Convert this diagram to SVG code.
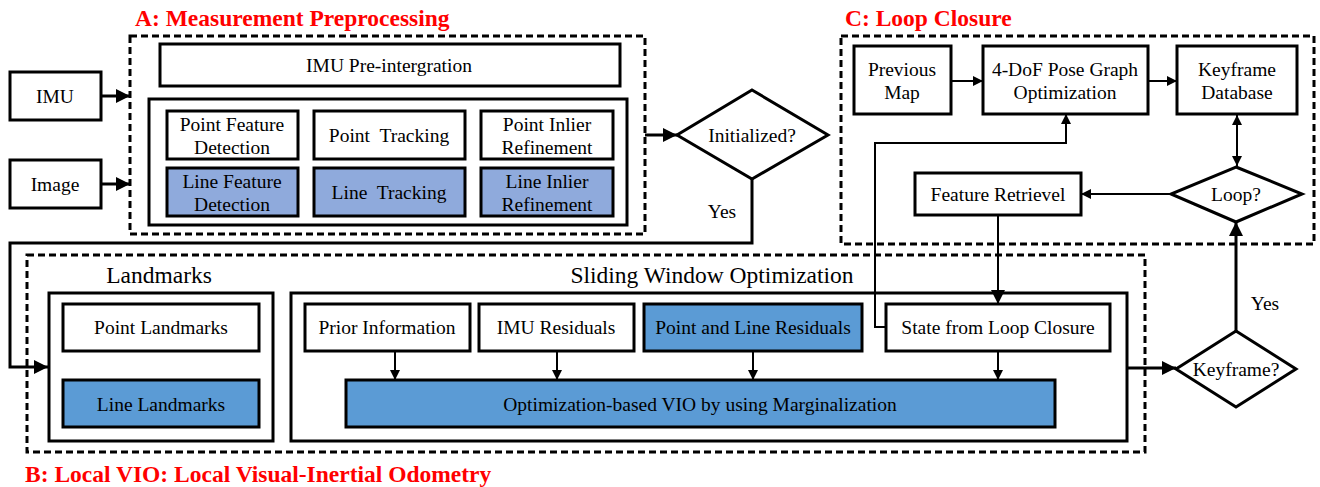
<svg xmlns="http://www.w3.org/2000/svg" width="1320" height="487" viewBox="0 0 1320 487">
<style>
text{font-family:"Liberation Serif","Times New Roman",serif;fill:#000;text-anchor:middle;dominant-baseline:central}
.t{font-size:19.5px}
.pre{white-space:pre}
.big{font-size:23.5px}
.title{font-size:23.5px;font-weight:bold;fill:#ff0000;text-anchor:start;dominant-baseline:alphabetic}
.box{fill:#fff;stroke:#000;stroke-width:3}
.lb{fill:#8faadc;stroke:#000;stroke-width:3}
.db{fill:#5b9bd5;stroke:#000;stroke-width:3}
.dash{fill:none;stroke:#000;stroke-width:3;stroke-dasharray:7,4}
.ln{fill:none;stroke:#000;stroke-width:2}
.lnb{fill:none;stroke:#000;stroke-width:3}
</style>
<defs>
<marker id="ah" viewBox="0 0 10 10" refX="10" refY="5" markerWidth="10" markerHeight="10" markerUnits="userSpaceOnUse" orient="auto-start-reverse"><path d="M0,0 L10,5 L0,10 z" fill="#000"/></marker>
<marker id="ahb" viewBox="0 0 10 10" refX="10" refY="5" markerWidth="14" markerHeight="14" markerUnits="userSpaceOnUse" orient="auto-start-reverse"><path d="M0,0 L10,5 L0,10 z" fill="#000"/></marker>
</defs>
<rect width="1320" height="487" fill="#fff"/>

<!-- Titles -->
<text class="title" x="135" y="26">A: Measurement Preprocessing</text>
<text class="title" x="845" y="26">C: Loop Closure</text>
<text class="title" x="25" y="482">B: Local VIO: Local Visual-Inertial Odometry</text>

<!-- Group containers -->
<g id="groupA">
<rect class="dash" x="130" y="36" width="515" height="198"/>
<rect class="box" x="149" y="99" width="478" height="126"/>
</g>
<g id="groupC">
<rect class="dash" x="841" y="36" width="473" height="208"/>
</g>
<g id="groupB">
<rect class="dash" x="27" y="255" width="1118" height="197"/>
<text class="big" x="159" y="275">Landmarks</text>
<text class="big" x="712" y="275">Sliding Window Optimization</text>
<rect class="box" x="49" y="293" width="224" height="148"/>
<rect class="box" x="291" y="293" width="836" height="148"/>
</g>

<!-- Connectors -->
<g id="connectors">
<line class="lnb" x1="101" y1="96" x2="130" y2="96" marker-end="url(#ahb)"/>
<line class="lnb" x1="101" y1="184" x2="130" y2="184" marker-end="url(#ahb)"/>
<line class="lnb" x1="645" y1="135" x2="677" y2="135" marker-end="url(#ahb)"/>
<polyline class="lnb" points="752,179 752,243 10,243 10,367 48,367" marker-end="url(#ahb)"/>
<line class="ln" x1="951" y1="81" x2="983" y2="81" marker-end="url(#ah)"/>
<line class="ln" x1="1148" y1="81" x2="1177" y2="81" marker-end="url(#ah)"/>
<line class="ln" x1="1237" y1="115" x2="1237" y2="166" marker-start="url(#ah)" marker-end="url(#ah)"/>
<line class="ln" x1="1171" y1="194" x2="1081" y2="194" marker-end="url(#ah)"/>
<line class="ln" x1="998" y1="215" x2="998" y2="304" marker-end="url(#ahb)"/>
<polyline class="ln" points="886,327 875,327 875,143 1066,143 1066,114" marker-end="url(#ah)"/>
<line class="ln" x1="395" y1="351" x2="395" y2="380" marker-end="url(#ah)"/>
<line class="ln" x1="557" y1="351" x2="557" y2="380" marker-end="url(#ah)"/>
<line class="ln" x1="753" y1="351" x2="753" y2="380" marker-end="url(#ah)"/>
<line class="ln" x1="998" y1="351" x2="998" y2="380" marker-end="url(#ah)"/>
<line class="lnb" x1="1127" y1="368" x2="1176" y2="368" marker-end="url(#ahb)"/>
<line class="lnb" x1="1236" y1="331" x2="1236" y2="222" marker-end="url(#ahb)"/>
<text class="t" x="722" y="211">Yes</text>
<text class="t" x="1265" y="303">Yes</text>
</g>

<!-- Nodes -->
<g id="imu"><rect class="box" x="10" y="72" width="91" height="48"/><text class="t" x="55" y="96">IMU</text></g>
<g id="image"><rect class="box" x="10" y="160" width="91" height="48"/><text class="t" x="55" y="184">Image</text></g>
<g id="imu-preint"><rect class="box" x="160" y="44" width="460" height="42"/><text class="t" x="389" y="65">IMU Pre-intergration</text></g>
<g id="pfd"><rect class="box" x="167" y="111" width="131" height="48"/><text class="t" x="232" y="124">Point Feature</text><text class="t" x="232" y="147">Detection</text></g>
<g id="pt"><rect class="box" x="314" y="111" width="151" height="48"/><text class="t pre" x="389" y="135">Point  Tracking</text></g>
<g id="pir"><rect class="box" x="481" y="111" width="132" height="48"/><text class="t" x="547" y="124">Point Inlier</text><text class="t" x="547" y="147">Refinement</text></g>
<g id="lfd"><rect class="lb" x="167" y="168" width="131" height="48"/><text class="t" x="232" y="181">Line Feature</text><text class="t" x="232" y="204">Detection</text></g>
<g id="lt"><rect class="lb" x="314" y="168" width="151" height="48"/><text class="t pre" x="389" y="192">Line  Tracking</text></g>
<g id="lir"><rect class="lb" x="481" y="168" width="132" height="48"/><text class="t" x="547" y="181">Line Inlier</text><text class="t" x="547" y="204">Refinement</text></g>
<g id="initialized"><polygon class="box" points="752,90 828,135 752,179 677,135"/><text class="t" x="752" y="135">Initialized?</text></g>

<g id="prevmap"><rect class="box" x="854" y="46" width="97" height="68"/><text class="t" x="902" y="69">Previous</text><text class="t" x="902" y="92">Map</text></g>
<g id="posegraph"><rect class="box" x="983" y="46" width="165" height="68"/><text class="t" x="1065" y="69">4-DoF Pose Graph</text><text class="t" x="1065" y="92">Optimization</text></g>
<g id="kfdb"><rect class="box" x="1177" y="46" width="120" height="68"/><text class="t" x="1237" y="69">Keyframe</text><text class="t" x="1237" y="92">Database</text></g>
<g id="featret"><rect class="box" x="915" y="173" width="166" height="42"/><text class="t" x="998" y="194">Feature Retrievel</text></g>
<g id="loop"><polygon class="box" points="1236,167 1302,194 1236,222 1171,194"/><text class="t" x="1236" y="194">Loop?</text></g>

<g id="pointlm"><rect class="box" x="63" y="304" width="196" height="47"/><text class="t" x="161" y="327">Point Landmarks</text></g>
<g id="linelm"><rect class="db" x="63" y="380" width="196" height="47"/><text class="t" x="161" y="404">Line Landmarks</text></g>
<g id="prior"><rect class="box" x="305" y="304" width="165" height="47"/><text class="t" x="387" y="327">Prior Information</text></g>
<g id="imures"><rect class="box" x="479" y="304" width="155" height="47"/><text class="t" x="556" y="327">IMU Residuals</text></g>
<g id="plres"><rect class="db" x="644" y="304" width="218" height="47"/><text class="t" x="753" y="327">Point and Line Residuals</text></g>
<g id="stateloop"><rect class="box" x="886" y="304" width="224" height="47"/><text class="t" x="998" y="327">State from Loop Closure</text></g>
<g id="vio"><rect class="db" x="346" y="380" width="709" height="47"/><text class="t" x="700" y="404">Optimization-based VIO by using Marginalization</text></g>
<g id="keyframe"><polygon class="box" points="1236,331 1296,369 1236,407 1176,369"/><text class="t" x="1236" y="369">Keyframe?</text></g>
</svg>
